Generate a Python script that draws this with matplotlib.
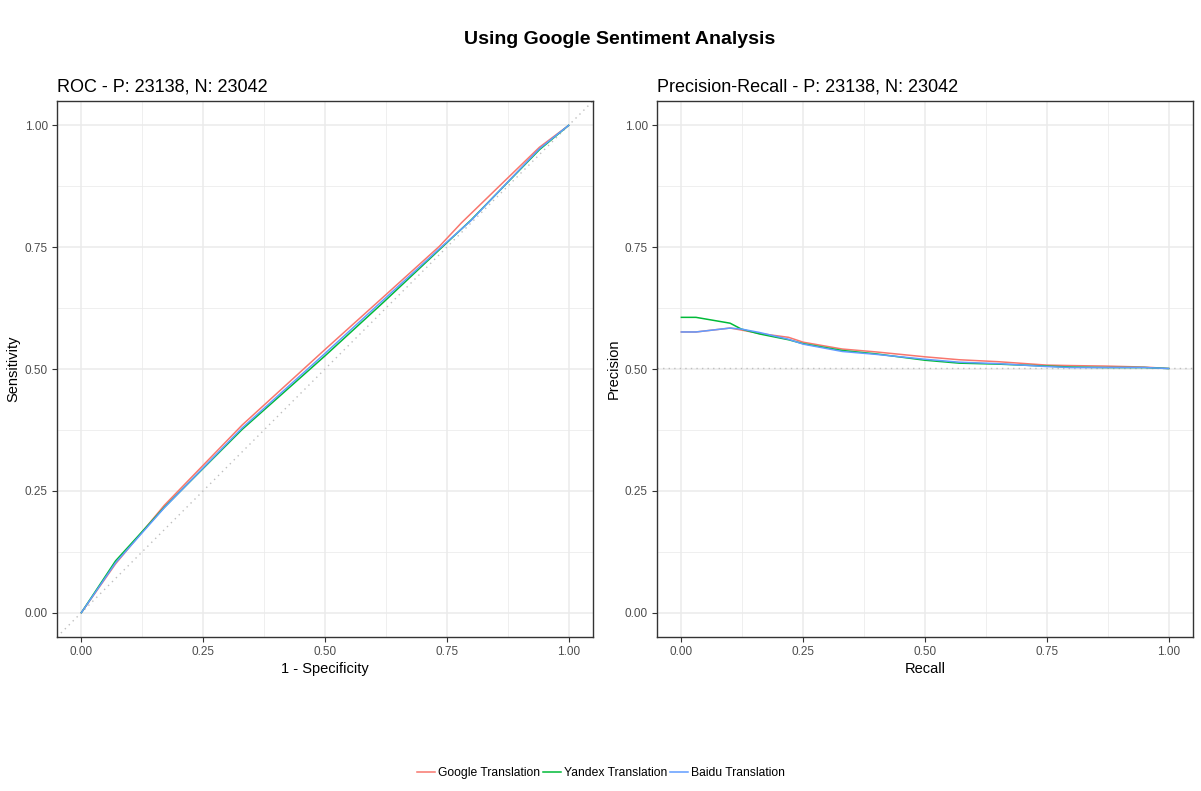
import matplotlib
matplotlib.use("Agg")
import matplotlib.pyplot as plt
from matplotlib.lines import Line2D

plt.rcParams['font.family'] = ['Liberation Sans', 'DejaVu Sans']

# series names and colours (ggplot default hue)
names = ["Google Translation", "Yandex Translation", "Baidu Translation"]
colors = ["#F8766D", "#00BA38", "#619CFF"]

# ROC curves: 1 - specificity vs sensitivity
roc_x_google = [0, 0.07, 0.17, 0.33, 0.50, 0.62, 0.735, 0.78, 0.94, 1.0]
roc_y_google = [0, 0.100, 0.220, 0.385, 0.540, 0.648, 0.752, 0.800, 0.955, 1.0]
roc_x_yandex = [0, 0.07, 0.17, 0.33, 0.50, 0.62, 0.735, 0.80, 0.94, 1.0]
roc_y_yandex = [0, 0.106, 0.216, 0.376, 0.527, 0.637, 0.745, 0.806, 0.950, 1.0]
roc_x_baidu = [0, 0.07, 0.17, 0.33, 0.50, 0.62, 0.735, 0.80, 0.94, 1.0]
roc_y_baidu = [0, 0.102, 0.215, 0.379, 0.532, 0.642, 0.747, 0.805, 0.952, 1.0]

# precision-recall curves
pr_recall = [0, 0.03, 0.10, 0.123, 0.16, 0.22, 0.25, 0.33, 0.40, 0.50, 0.57,
             0.65, 0.75, 0.80, 0.87, 0.95, 1.0]
pr_google = [0.576, 0.576, 0.584, 0.580, 0.573, 0.565, 0.555, 0.541, 0.535,
             0.525, 0.519, 0.515, 0.508, 0.507, 0.506, 0.504, 0.501]
pr_yandex = [0.606, 0.606, 0.594, 0.582, 0.572, 0.560, 0.552, 0.538, 0.531,
             0.518, 0.512, 0.510, 0.506, 0.504, 0.503, 0.503, 0.501]
pr_baidu = [0.576, 0.576, 0.584, 0.582, 0.575, 0.561, 0.551, 0.536, 0.530,
            0.520, 0.514, 0.511, 0.505, 0.503, 0.503, 0.503, 0.501]

P, N = 23138, 23042
ticks = [0, 0.25, 0.5, 0.75, 1.0]
tick_labels = ["0.00", "0.25", "0.50", "0.75", "1.00"]
minor = [0.125, 0.375, 0.625, 0.875]

fig = plt.figure(figsize=(12.01, 7.91), dpi=100)
ax1 = fig.add_axes([57 / 1201, 1 - 637 / 791, 536 / 1201, 536 / 791])
ax2 = fig.add_axes([657 / 1201, 1 - 637 / 791, 536 / 1201, 536 / 791])


def style(ax):
    ax.set_xlim(-0.05, 1.05)
    ax.set_ylim(-0.05, 1.05)
    ax.set_xticks(ticks)
    ax.set_xticklabels(tick_labels)
    ax.set_yticks(ticks)
    ax.set_yticklabels(tick_labels)
    for v in ticks:
        ax.axvline(v, color="#EBEBEB", lw=1.1, zorder=0)
        ax.axhline(v, color="#EBEBEB", lw=1.1, zorder=0)
    for v in minor:
        ax.axvline(v, color="#EBEBEB", lw=0.55, zorder=0)
        ax.axhline(v, color="#EBEBEB", lw=0.55, zorder=0)
    ax.tick_params(length=3.5, width=0.8, color="#333333", labelcolor="#4D4D4D",
                   labelsize=8.5, pad=3)
    for s in ax.spines.values():
        s.set_color("#333333")
        s.set_linewidth(1.0)


style(ax1)
style(ax2)

ax1.plot([-0.05, 1.05], [-0.05, 1.05], ls=(0, (1, 3)), color="#BEBEBE", lw=1.0, zorder=1)
ax1.plot(roc_x_google, roc_y_google, color=colors[0], lw=1.1)
ax1.plot(roc_x_yandex, roc_y_yandex, color=colors[1], lw=1.1)
ax1.plot(roc_x_baidu, roc_y_baidu, color=colors[2], lw=1.1)
ax1.set_title(f"ROC - P: {P}, N: {N}", loc="left", fontsize=13, pad=7)
ax1.set_xlabel("1 - Specificity", fontsize=10.5, labelpad=3)
ax1.set_ylabel("Sensitivity", fontsize=10.5, labelpad=3)

ax2.axhline(P / (P + N), ls=(0, (1, 3)), color="#BEBEBE", lw=1.0, zorder=1)
ax2.plot(pr_recall, pr_google, color=colors[0], lw=1.1)
ax2.plot(pr_recall, pr_yandex, color=colors[1], lw=1.1)
ax2.plot(pr_recall, pr_baidu, color=colors[2], lw=1.1)
ax2.set_title(f"Precision-Recall - P: {P}, N: {N}", loc="left", fontsize=13, pad=7)
ax2.set_xlabel("Recall", fontsize=10.5, labelpad=3)
ax2.set_ylabel("Precision", fontsize=10.5, labelpad=3)

fig.suptitle("Using Google Sentiment Analysis", x=619.5 / 1201, y=1 - 40 / 791,
             fontsize=14, fontweight="bold", va="center")

handles = [Line2D([], [], color=c, lw=1.1) for c in colors]
fig.legend(handles, names, loc="center", bbox_to_anchor=(601 / 1201, 1 - 773 / 791),
           ncol=3, frameon=False, fontsize=8.7, handlelength=1.5,
           handletextpad=0.25, columnspacing=0.25)

fig.savefig("out.png", dpi=100)
